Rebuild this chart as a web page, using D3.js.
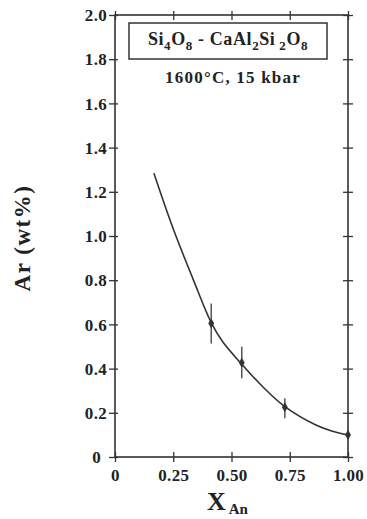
<!DOCTYPE html>
<html>
<head>
<meta charset="utf-8">
<script src="https://cdn.jsdelivr.net/npm/d3@7"></script>
<style>
html,body{margin:0;padding:0;background:#fff;}
svg{display:block;}
text{font-family:"Liberation Serif","Times New Roman",serif;font-weight:bold;fill:#222;}
</style>
</head>
<body>
<script>
// ---- data ----
const xAn = [0.413, 0.544, 0.729, 1.0];
const arWt = [0.605, 0.427, 0.225, 0.10];
const errLow = [0.514, 0.356, 0.175, null];
const errHigh = [0.695, 0.499, 0.266, null];
const curveX = [0.167, 0.249, 0.335, 0.413, 0.463, 0.544, 0.634, 0.729, 0.862, 0.933, 1.0];
const curveY = [1.284, 1.035, 0.805, 0.608, 0.520, 0.420, 0.318, 0.228, 0.145, 0.117, 0.10];
const xTicks = [0, 0.25, 0.5, 0.75, 1.0];
const xTickLabels = ["0", "0.25", "0.50", "0.75", "1.00"];
const yTicks = [0, 0.2, 0.4, 0.6, 0.8, 1.0, 1.2, 1.4, 1.6, 1.8, 2.0];
const yTickLabels = ["0", "0.2", "0.4", "0.6", "0.8", "1.0", "1.2", "1.4", "1.6", "1.8", "2.0"];

const W = 367, H = 519;
const svg = d3.select("body").append("svg").attr("width", W).attr("height", H);

const x = d3.scaleLinear().domain([0, 1]).range([115, 348]);
const y = d3.scaleLinear().domain([0, 2]).range([457, 15]);
const axisColor = "#333";

// frame
svg.append("rect")
  .attr("x", x(0)).attr("y", y(2))
  .attr("width", x(1) - x(0)).attr("height", y(0) - y(2))
  .attr("fill", "none").attr("stroke", axisColor).attr("stroke-width", 1.6);

// left axis
const gL = svg.append("g").attr("transform", `translate(${x(0)},0)`)
  .call(d3.axisLeft(y).tickValues(yTicks).tickSize(6).tickPadding(2)
        .tickFormat((d, i) => yTickLabels[i]));
gL.select(".domain").remove();
gL.selectAll(".tick line").attr("stroke", axisColor).attr("stroke-width", 1.3).attr("x2", -6).attr("x1", 3);
gL.selectAll(".tick text").attr("font-size", 17).attr("letter-spacing", 0.3)
  .attr("fill", "#222").attr("dy", "0.34em")
  .style("font-family", '"Liberation Serif",serif').style("font-weight", "bold");
gL.selectAll(".tick").filter(d => d === 0).select("text").attr("x", -14);

// right axis ticks
const gR = svg.append("g").attr("transform", `translate(${x(1)},0)`)
  .call(d3.axisRight(y).tickValues(yTicks).tickSize(5).tickFormat(""));
gR.select(".domain").remove();
gR.selectAll(".tick line").attr("stroke", axisColor).attr("stroke-width", 1.3).attr("x1", -5).attr("x2", 5);

// bottom axis
const gB = svg.append("g").attr("transform", `translate(0,${y(0)})`)
  .call(d3.axisBottom(x).tickValues(xTicks).tickSize(4).tickPadding(8)
        .tickFormat((d, i) => xTickLabels[i]));
gB.select(".domain").remove();
gB.selectAll(".tick line").attr("stroke", axisColor).attr("stroke-width", 1.3).attr("y1", -5).attr("y2", 5);
gB.selectAll(".tick text").attr("font-size", 17).attr("letter-spacing", 0.3)
  .attr("fill", "#222")
  .style("font-family", '"Liberation Serif",serif').style("font-weight", "bold");

// top axis ticks
const gT = svg.append("g").attr("transform", `translate(0,${y(2)})`)
  .call(d3.axisTop(x).tickValues(xTicks).tickSize(5).tickFormat(""));
gT.select(".domain").remove();
gT.selectAll(".tick line").attr("stroke", axisColor).attr("stroke-width", 1.3).attr("y1", 5).attr("y2", -4);

// fitted curve
const curvePts = curveX.map((d, i) => [d, curveY[i]]);
svg.append("path")
  .datum(curvePts)
  .attr("fill", "none").attr("stroke", "#333").attr("stroke-width", 1.6)
  .attr("d", d3.line().x(d => x(d[0])).y(d => y(d[1])).curve(d3.curveCatmullRom.alpha(0.5)));

// error bars
const pts = xAn.map((d, i) => ({x: d, y: arWt[i], lo: errLow[i], hi: errHigh[i]}));
svg.selectAll("line.err").data(pts.filter(p => p.lo != null)).enter().append("line")
  .attr("class", "err")
  .attr("x1", d => x(d.x)).attr("x2", d => x(d.x))
  .attr("y1", d => y(d.lo)).attr("y2", d => y(d.hi))
  .attr("stroke", "#555").attr("stroke-width", 1.5);

// markers
svg.selectAll("path.pt").data(pts).enter().append("path")
  .attr("class", "pt")
  .attr("transform", d => `translate(${x(d.x)},${y(d.y)})`)
  .attr("d", d3.symbol().type(d3.symbolDiamond).size(30))
  .attr("fill", "#333");

// title box
svg.append("rect").attr("x", 129).attr("y", 23).attr("width", 198).attr("height", 36)
  .attr("fill", "#fff").attr("stroke", "#333").attr("stroke-width", 1.5);

const t1 = svg.append("text").attr("x", 228).attr("y", 45).attr("text-anchor", "middle")
  .attr("font-size", 18).attr("letter-spacing", 0.6);
const parts = [["Si", 0], ["4", 1], ["O", 0], ["8", 1], [" -  CaAl", 0], ["2", 1], ["Si", 0], [" 2", 1], ["O", 0], ["8", 1]];
let prevSub = 0;
parts.forEach(([s, sub]) => {
  const ts = t1.append("tspan").text(s);
  if (sub) ts.attr("font-size", 13);
  const dy = (sub ? 5 : 0) - (prevSub ? 5 : 0);
  if (dy) ts.attr("dy", dy);
  prevSub = sub;
});

svg.append("text").attr("x", 233).attr("y", 83).attr("text-anchor", "middle")
  .attr("font-size", 17).attr("letter-spacing", 1.2).text("1600°C, 15 kbar");

// y label
svg.append("text").attr("transform", "translate(30,238) rotate(-90)")
  .attr("text-anchor", "middle").attr("font-size", 23).attr("letter-spacing", 1.5)
  .text("Ar (wt%)");

// x label
const xl = svg.append("text").attr("x", 207).attr("y", 510).attr("font-size", 26);
xl.append("tspan").text("X");
xl.append("tspan").attr("font-size", 15).attr("dy", 4).attr("dx", 3).text("An");
</script>
</body>
</html>
